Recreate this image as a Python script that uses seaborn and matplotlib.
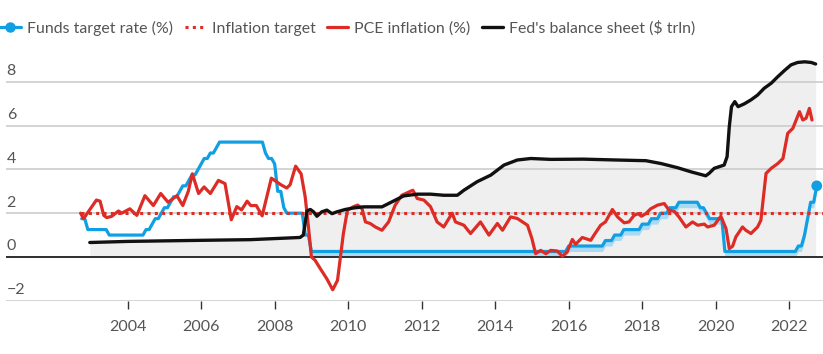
import numpy as np
import pandas as pd
import matplotlib
matplotlib.use("Agg")
import matplotlib.pyplot as plt
import matplotlib.transforms as mtransforms
import seaborn as sns
from matplotlib.lines import Line2D
from matplotlib.legend_handler import HandlerLine2D

# ---------------- DATA ----------------
# Fed funds target rate (upper bound, %), month-end values Sep 2002 .. Sep 2022
funds_2002 = [1.75, 1.75, 1.25, 1.25]
funds_2003 = [1.25, 1.25, 1.25, 1.25, 1.25, 1.00, 1.00, 1.00, 1.00, 1.00, 1.00, 1.00]
funds_2004 = [1.00, 1.00, 1.00, 1.00, 1.00, 1.25, 1.25, 1.50, 1.75, 1.75, 2.00, 2.25]
funds_2005 = [2.25, 2.50, 2.75, 2.75, 3.00, 3.25, 3.25, 3.50, 3.75, 3.75, 4.00, 4.25]
funds_2006 = [4.50, 4.50, 4.75, 4.75, 5.00, 5.25, 5.25, 5.25, 5.25, 5.25, 5.25, 5.25]
funds_2007 = [5.25, 5.25, 5.25, 5.25, 5.25, 5.25, 5.25, 5.25, 4.75, 4.50, 4.50, 4.25]
funds_2008 = [3.00, 3.00, 2.25, 2.00, 2.00, 2.00, 2.00, 2.00, 2.00, 1.00, 1.00, 0.25]
funds_2009 = [0.25, 0.25, 0.25, 0.25, 0.25, 0.25, 0.25, 0.25, 0.25, 0.25, 0.25, 0.25]
funds_2010 = [0.25, 0.25, 0.25, 0.25, 0.25, 0.25, 0.25, 0.25, 0.25, 0.25, 0.25, 0.25]
funds_2011 = [0.25, 0.25, 0.25, 0.25, 0.25, 0.25, 0.25, 0.25, 0.25, 0.25, 0.25, 0.25]
funds_2012 = [0.25, 0.25, 0.25, 0.25, 0.25, 0.25, 0.25, 0.25, 0.25, 0.25, 0.25, 0.25]
funds_2013 = [0.25, 0.25, 0.25, 0.25, 0.25, 0.25, 0.25, 0.25, 0.25, 0.25, 0.25, 0.25]
funds_2014 = [0.25, 0.25, 0.25, 0.25, 0.25, 0.25, 0.25, 0.25, 0.25, 0.25, 0.25, 0.25]
funds_2015 = [0.25, 0.25, 0.25, 0.25, 0.25, 0.25, 0.25, 0.25, 0.25, 0.25, 0.25, 0.50]
funds_2016 = [0.50, 0.50, 0.50, 0.50, 0.50, 0.50, 0.50, 0.50, 0.50, 0.50, 0.50, 0.75]
funds_2017 = [0.75, 0.75, 1.00, 1.00, 1.00, 1.25, 1.25, 1.25, 1.25, 1.25, 1.25, 1.50]
funds_2018 = [1.50, 1.50, 1.75, 1.75, 1.75, 2.00, 2.00, 2.00, 2.25, 2.25, 2.25, 2.50]
funds_2019 = [2.50, 2.50, 2.50, 2.50, 2.50, 2.50, 2.25, 2.25, 2.00, 1.75, 1.75, 1.75]
funds_2020 = [1.75, 1.75, 0.25, 0.25, 0.25, 0.25, 0.25, 0.25, 0.25, 0.25, 0.25, 0.25]
funds_2021 = [0.25, 0.25, 0.25, 0.25, 0.25, 0.25, 0.25, 0.25, 0.25, 0.25, 0.25, 0.25]
funds_2022 = [0.25, 0.25, 0.50, 0.50, 1.00, 1.75, 2.50, 2.50, 3.25]
funds_start, funds_end = "2002-09", "2022-09"
range_start = "2008-12"      # target becomes a 0.25-point range from here
range_width = 0.25

# PCE inflation (%, y/y) (decimal year, value)
pce_x = [2002.72, 2002.80, 2003.15, 2003.25, 2003.35, 2003.43, 2003.56, 2003.75, 2003.84, 2004.06,
         2004.25, 2004.47, 2004.70, 2004.90, 2005.10, 2005.34, 2005.50, 2005.65, 2005.76, 2005.93,
         2006.08, 2006.25, 2006.47, 2006.65, 2006.82, 2006.97, 2007.10, 2007.25, 2007.35, 2007.50,
         2007.66, 2007.91, 2008.17, 2008.33, 2008.42, 2008.57, 2008.72, 2008.83, 2008.92, 2009.00,
         2009.10, 2009.24, 2009.42, 2009.58, 2009.71, 2009.78, 2009.87, 2009.98, 2010.15, 2010.26,
         2010.38, 2010.47, 2010.60, 2010.74, 2010.92, 2011.10, 2011.28, 2011.46, 2011.76, 2011.88,
         2012.06, 2012.24, 2012.42, 2012.60, 2012.83, 2012.92, 2013.15, 2013.33, 2013.60, 2013.83,
         2014.06, 2014.20, 2014.42, 2014.60, 2014.88, 2015.00, 2015.10, 2015.24, 2015.38, 2015.51,
         2015.69, 2015.83, 2015.96, 2016.10, 2016.19, 2016.37, 2016.60, 2016.69, 2016.87, 2017.00,
         2017.19, 2017.33, 2017.51, 2017.64, 2017.78, 2017.89, 2017.98, 2018.10, 2018.23, 2018.42,
         2018.60, 2018.73, 2018.87, 2019.00, 2019.19, 2019.37, 2019.51, 2019.69, 2019.78, 2019.96,
         2020.14, 2020.28, 2020.37, 2020.46, 2020.55, 2020.73, 2020.82, 2020.96, 2021.14, 2021.23,
         2021.37, 2021.51, 2021.69, 2021.83, 2021.96, 2022.10, 2022.28, 2022.37, 2022.46, 2022.55,
         2022.62]
pce_y = [2.00, 1.75, 2.60, 2.55, 1.90, 1.80, 1.85, 2.10, 2.00, 2.20,
         1.90, 2.80, 2.35, 2.90, 2.50, 2.80, 2.35, 3.00, 3.80, 2.90,
         3.20, 2.90, 3.50, 3.35, 1.70, 2.30, 2.15, 2.55, 2.35, 2.35,
         1.88, 3.60, 3.30, 3.15, 3.30, 4.15, 3.80, 2.75, 1.37, 0.00,
         -0.15, -0.53, -1.00, -1.50, -1.07, -0.15, 1.07, 2.14, 2.30, 2.37,
         2.20, 1.60, 1.53, 1.37, 1.22, 1.60, 2.37, 2.82, 3.05, 2.67,
         2.60, 2.30, 1.60, 1.37, 2.00, 1.60, 1.45, 1.07, 1.60, 1.00,
         1.53, 1.22, 1.83, 1.76, 1.45, 0.84, 0.15, 0.30, 0.15, 0.30,
         0.27, 0.03, 0.23, 0.80, 0.58, 0.89, 0.76, 1.00, 1.45, 1.60,
         2.17, 1.83, 1.56, 1.60, 1.90, 1.98, 1.86, 1.98, 2.20, 2.37,
         2.44, 2.14, 2.09, 1.83, 1.37, 1.60, 1.45, 1.50, 1.37, 1.45,
         1.86, 1.30, 0.38, 0.49, 0.92, 1.37, 1.22, 1.07, 1.37, 1.68,
         3.82, 4.05, 4.27, 4.50, 5.65, 5.88, 6.64, 6.26, 6.34, 6.79,
         6.26]

# Fed's balance sheet ($ trln)
bs_x = [2002.97, 2004.00, 2006.00, 2007.33, 2008.69, 2008.78, 2008.88, 2008.97, 2009.06, 2009.15,
        2009.28, 2009.42, 2009.56, 2009.69, 2009.92, 2010.15, 2010.42, 2010.92, 2011.24, 2011.51,
        2011.88, 2012.24, 2012.60, 2012.97, 2013.15, 2013.51, 2013.88, 2014.24, 2014.60, 2014.97,
        2015.51, 2016.40, 2017.33, 2018.10, 2018.51, 2018.96, 2019.33, 2019.73, 2019.82, 2019.96,
        2020.14, 2020.23, 2020.31, 2020.37, 2020.43, 2020.52, 2020.61, 2020.78, 2020.96, 2021.14,
        2021.32, 2021.51, 2021.69, 2021.87, 2022.05, 2022.23, 2022.42, 2022.60, 2022.72]
bs_y = [0.66, 0.71, 0.76, 0.79, 0.89, 1.00, 2.10, 2.17, 2.06, 1.86,
        2.06, 2.14, 1.98, 2.06, 2.17, 2.24, 2.29, 2.29, 2.56, 2.79,
        2.87, 2.87, 2.82, 2.82, 3.05, 3.44, 3.74, 4.20, 4.43, 4.50,
        4.46, 4.47, 4.43, 4.40, 4.27, 4.08, 3.89, 3.71, 3.82, 4.05,
        4.15, 4.20, 4.58, 5.95, 6.87, 7.10, 6.87, 7.00, 7.18, 7.40,
        7.71, 7.94, 8.24, 8.52, 8.78, 8.89, 8.92, 8.89, 8.82]

inflation_target = 2.0
year_ticks = [2004, 2006, 2008, 2010, 2012, 2014, 2016, 2018, 2020, 2022]
y_ticks = [-2, 0, 2, 4, 6, 8]
y_tick_labels = ["\u22122", "0", "2", "4", "6", "8"]
legend_labels = ["Funds target rate (%)", "Inflation target", "PCE inflation (%)",
                 "Fed's balance sheet ($ trln)"]

# ---------------- PREP ----------------
funds_upper = np.array(funds_2002 + funds_2003 + funds_2004 + funds_2005 + funds_2006 +
                       funds_2007 + funds_2008 + funds_2009 + funds_2010 + funds_2011 +
                       funds_2012 + funds_2013 + funds_2014 + funds_2015 + funds_2016 +
                       funds_2017 + funds_2018 + funds_2019 + funds_2020 + funds_2021 + funds_2022)
months = pd.period_range(funds_start, funds_end, freq="M")
assert len(months) == len(funds_upper)
funds_x = months.year + months.month / 12.0   # month-end as decimal year
is_range = months >= pd.Period(range_start, freq="M")
funds_lower = np.where(is_range, funds_upper - range_width, funds_upper)
assert len(pce_x) == len(pce_y) and len(bs_x) == len(bs_y)

BLUE = "#119fe3"
BAND = "#a9d9f3"
RED = "#dd2c26"
BLACK = "#111111"
GREY_TXT = "#555555"

sns.set_theme(style="white")
plt.rcParams['font.family'] = ['Lato', 'DejaVu Sans']

fig = plt.figure(figsize=(8.23, 3.54), dpi=100)
W, H = 823.0, 354.0
ax = fig.add_axes([6 / W, 53.3 / H, 817 / W, 240.65 / H])

x_left, x_right = 2000.69, 2022.92
ax.set_xlim(x_left, x_right)
ax.set_ylim(-2, 9)

# balance-sheet area
ax.fill_between(bs_x, 0, bs_y, color="#efefef", lw=0, zorder=1)
# funds range band
ax.fill_between(funds_x, funds_lower, funds_upper, color=BAND, lw=0, zorder=1.7)

# grid
ax.set_yticks(y_ticks)
ax.set_axisbelow('line')
ax.grid(axis="y", color="#c9c9c9", lw=1.1)
ax.grid(axis="x", visible=False)
ax.axhline(0, color="#222222", lw=1.3, zorder=2.2)

# lines
sns.lineplot(x=np.asarray(funds_x), y=funds_upper, ax=ax, color=BLUE, lw=2.3,
             estimator=None, zorder=3)
sns.scatterplot(x=[funds_x[-1]], y=[funds_upper[-1]], ax=ax, color=BLUE, s=60,
                edgecolor="none", zorder=3.1, clip_on=False)
sns.lineplot(x=[pce_x[0], x_right], y=[inflation_target, inflation_target], ax=ax,
             color=RED, lw=2.2, dashes=False, estimator=None, zorder=3.2)
ax.lines[-1].set_linestyle((0, (1.0, 1.4)))
sns.lineplot(x=pce_x, y=pce_y, ax=ax, color=RED, lw=2.3, estimator=None, zorder=3.4)
sns.lineplot(x=bs_x, y=bs_y, ax=ax, color=BLACK, lw=2.4, estimator=None, zorder=3.6)

# axes cosmetics
for s in ax.spines.values():
    s.set_visible(False)
ax.set_xlabel("")
ax.set_ylabel("")
ax.set_xticks(year_ticks)
ax.set_xticklabels([str(y) for y in year_ticks])
ax.tick_params(axis="x", bottom=True, length=6, width=1, color="#333333",
               pad=8, labelsize=11.5, labelcolor=GREY_TXT)
ax.tick_params(axis="y", left=False, labelleft=False)

trans = mtransforms.blended_transform_factory(ax.transAxes, ax.transData)
for v, lab in zip(y_ticks, y_tick_labels):
    ax.annotate(lab, xy=(0, v), xycoords=trans, xytext=(0.5, 2.5),
                textcoords="offset points", ha="left", va="bottom",
                fontsize=11.5, color=GREY_TXT)

# legend
class EndMarkerHandler(HandlerLine2D):
    def get_xdata(self, legend, xdescent, ydescent, width, height, fontsize):
        xd = np.array([-xdescent, -xdescent + width])
        return xd, np.array([-xdescent + width])

h_funds = Line2D([], [], color=BLUE, lw=2.3, marker="o", markersize=6.5)
h_target = Line2D([], [], color=RED, lw=2.2, linestyle=(0, (1.0, 1.4)))
h_pce = Line2D([], [], color=RED, lw=2.3)
h_bs = Line2D([], [], color=BLACK, lw=2.4)
leg = fig.legend([h_funds, h_target, h_pce, h_bs], legend_labels,
                 loc="center left", bbox_to_anchor=(0.0, 1 - 28 / H), ncol=4,
                 frameon=False, fontsize=11.4, handlelength=1.3, handletextpad=0.42,
                 columnspacing=0.72, borderaxespad=0, borderpad=0,
                 handler_map={h_funds: EndMarkerHandler()})
for t in leg.get_texts():
    t.set_color(GREY_TXT)

fig.savefig("out.png", dpi=100)
